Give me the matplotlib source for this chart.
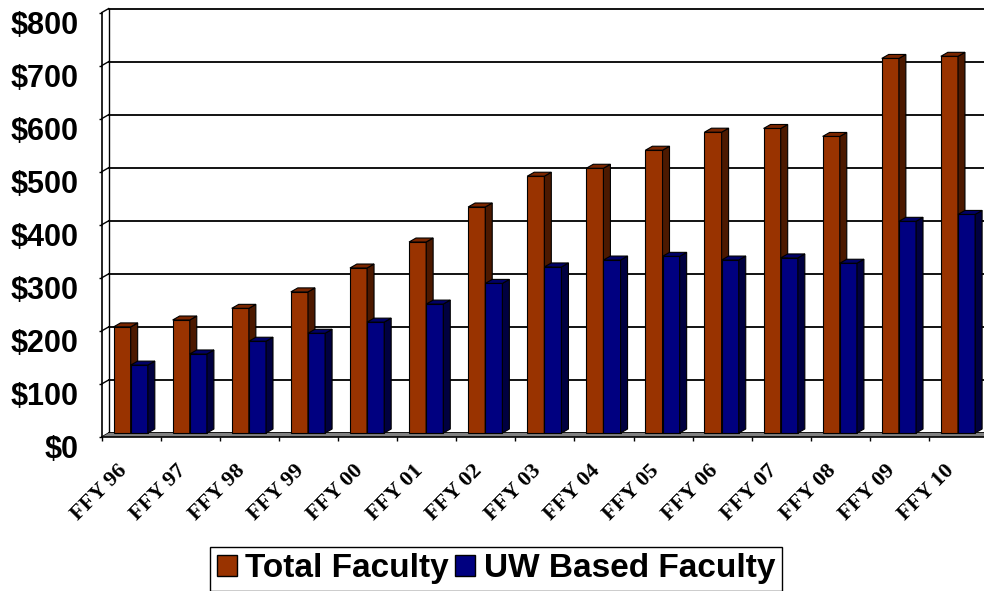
import numpy as np
import matplotlib.pyplot as plt
from matplotlib.patches import Patch, Polygon
from matplotlib.transforms import ScaledTranslation

plt.rcParams['font.family'] = ['Liberation Sans', 'DejaVu Sans']

# Data (values in $ millions)
years = ['FFY 96', 'FFY 97', 'FFY 98', 'FFY 99', 'FFY 00', 'FFY 01', 'FFY 02',
         'FFY 03', 'FFY 04', 'FFY 05', 'FFY 06', 'FFY 07', 'FFY 08', 'FFY 09', 'FFY 10']
total = [200, 213, 235, 266, 311, 360, 426, 484, 499, 533, 567, 574, 559, 706, 710]
uw_based = [128, 149, 173, 188, 209, 243, 282, 313, 326, 333, 326, 330, 320, 399, 412]
y_ticks = list(range(0, 900, 100))
y_labels = [f'${v}' for v in y_ticks]

# Excel-like 3D depth offset (data units)
DX, DY = 0.118, 7.5

fig = plt.figure(figsize=(9.84, 5.91), dpi=100)
ax = fig.add_axes([0.1034, 0.2606, 0.9008, 0.7182])
ax.set_xlim(0, len(years))
ax.set_ylim(0, 800)
n = len(years)

# back wall gridlines and left wall
for v in y_ticks:
    ax.plot([DX, n + DX], [v + DY, v + DY], color='black', lw=1.3, zorder=1, clip_on=False)
    ax.plot([0, DX], [v, v + DY], color='black', lw=1.0, zorder=1, clip_on=False)
ax.plot([DX, DX], [DY, 800 + DY], color='black', lw=1.0, zorder=1, clip_on=False)

# floor
ax.add_patch(Polygon([(0, 0), (n, 0), (n + DX, DY), (DX, DY)], closed=True,
                     fc='#808080', ec='none', zorder=2, clip_on=False))


def bar3d(x, vals, w, front, top, side, z):
    ax.bar(x, vals, width=w, bottom=DY, align='edge', color=front,
           edgecolor='black', linewidth=0.8, zorder=z, clip_on=False)
    for xi, v in zip(x, vals):
        y0, y1 = DY, v + DY
        ax.add_patch(Polygon([(xi + w, y0), (xi + w + DX, y0 + DY), (xi + w + DX, y1 + DY), (xi + w, y1)],
                             closed=True, fc=side, ec='black', lw=0.8, zorder=z, clip_on=False))
        ax.add_patch(Polygon([(xi, y1), (xi + w, y1), (xi + w + DX, y1 + DY), (xi + DX, y1 + DY)],
                             closed=True, fc=top, ec='black', lw=0.8, zorder=z, clip_on=False))


x = np.arange(n)
bar3d(x + 0.20, total, 0.29, '#993300', '#7a2600', '#4c1900', 3)
bar3d(x + 0.49, uw_based, 0.29, '#000080', '#000066', '#000040', 4)

# axes
for s in ['top', 'right']:
    ax.spines[s].set_visible(False)
for s in ['left', 'bottom']:
    ax.spines[s].set_linewidth(1.2)
    ax.spines[s].set_zorder(5)

ax.set_yticks(y_ticks, labels=y_labels)
ax.tick_params(axis='y', direction='out', length=2.5, width=1, pad=14,
               labelsize=22)
for lab in ax.get_yticklabels():
    lab.set_fontweight('bold')
    lab.set_transform(lab.get_transform() + ScaledTranslation(0, -0.10, fig.dpi_scale_trans))

ax.set_xticks(np.arange(n + 1))
ax.set_xticklabels([])
ax.set_xticks(np.arange(n) + 0.5 - 0.24, minor=True)
ax.set_xticklabels(years, minor=True, rotation=45, ha='right', rotation_mode='anchor',
                   family='Liberation Serif', fontweight='bold', fontsize=16)
ax.tick_params(axis='x', which='major', direction='out', length=3, width=1)
ax.tick_params(axis='x', which='minor', length=0, pad=17)

handles = [Patch(fc='#993300', ec='black'), Patch(fc='#000080', ec='black')]
leg = fig.legend(handles, ['Total Faculty', 'UW Based Faculty'], loc='center',
                 bbox_to_anchor=(496 / 984, 22 / 591), ncol=2, frameon=True,
                 fancybox=False, edgecolor='black', framealpha=1,
                 prop={'weight': 'bold', 'size': 24}, handlelength=0.6,
                 handleheight=0.6, handletextpad=0.25, columnspacing=0.2,
                 borderpad=0.2, borderaxespad=0)
leg.get_frame().set_linewidth(1.0)

fig.savefig('out.png', dpi=100)
